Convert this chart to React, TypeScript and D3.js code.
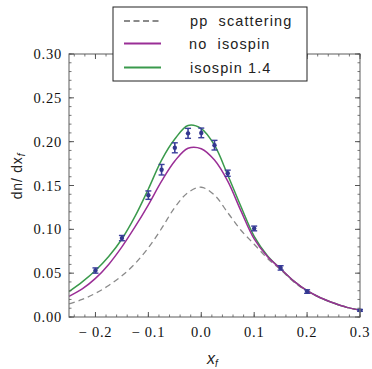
import React from "react";
import * as d3 from "d3";

const curveX = [-0.25, -0.225, -0.2, -0.175, -0.15, -0.125, -0.1, -0.075, -0.05, -0.025, 0, 0.025, 0.05, 0.075, 0.1, 0.125, 0.15, 0.175, 0.2, 0.225, 0.25, 0.275, 0.3];
const isospinY = [0.029, 0.040, 0.053, 0.069, 0.089, 0.115, 0.146, 0.179, 0.203, 0.2185, 0.215, 0.196, 0.162, 0.126, 0.092, 0.070, 0.055, 0.041, 0.030, 0.022, 0.016, 0.011, 0.008];
const noIsospinY = [0.0235, 0.032, 0.044, 0.060, 0.080, 0.103, 0.128, 0.155, 0.178, 0.1925, 0.192, 0.179, 0.155, 0.121, 0.089, 0.069, 0.055, 0.041, 0.030, 0.022, 0.016, 0.011, 0.008];
const ppY = [0.015, 0.020, 0.027, 0.036, 0.047, 0.061, 0.079, 0.101, 0.125, 0.142, 0.148, 0.139, 0.119, 0.099, 0.083, 0.067, 0.054, 0.040, 0.0295, 0.022, 0.0157, 0.011, 0.008];

const dataX = [-0.2, -0.15, -0.1, -0.075, -0.05, -0.025, 0, 0.025, 0.05, 0.1, 0.15, 0.2, 0.3];
const dataY = [0.053, 0.090, 0.139, 0.168, 0.193, 0.2095, 0.210, 0.196, 0.164, 0.101, 0.056, 0.029, 0.0076];
const dataErr = [0.003, 0.003, 0.0048, 0.006, 0.0057, 0.0057, 0.0055, 0.0055, 0.0035, 0.0027, 0.0025, 0.002, 0.001];

const xTickValues = [-0.2, -0.1, 0, 0.1, 0.2, 0.3];
const xTickLabels = ["\u2212 0.2", "\u2212 0.1", "0.0", "0.1", "0.2", "0.3"];
const yTickValues = [0, 0.05, 0.1, 0.15, 0.2, 0.25, 0.3];
const yTickLabels = ["0.00", "0.05", "0.10", "0.15", "0.20", "0.25", "0.30"];

const legendLabels = ["pp  scattering", "no  isospin", "isospin 1.4"];
const legendColors = ["#8a8a8a", "#9a2e96", "#3a9a4c"];
const legendDash = ["6,3.5", null, null];

export default function App() {
  const W = 372, H = 369;
  const x = d3.scaleLinear().domain([-0.25, 0.3]).range([69, 360]);
  const y = d3.scaleLinear().domain([0, 0.3]).range([317, 54]);
  const line = (ys: number[]) =>
    d3.line<number>().x((_, i) => x(curveX[i])).y((v) => y(v)).curve(d3.curveCatmullRom.alpha(0.5))(ys) || "";

  const xMinor = d3.range(-0.24, 0.301, 0.02).map((v) => Math.round(v * 100) / 100);
  const yMinor = d3.range(0, 0.301, 0.01).map((v) => Math.round(v * 100) / 100);
  const [x0, x1] = x.range();
  const [y0, y1] = y.range();
  const frameColor = "#777";
  const tickColor = "#555";
  const serif = "'Liberation Serif', 'DejaVu Serif', serif";
  const sans = "'Liberation Sans', Arial, sans-serif";

  return (
    <svg width={W} height={H} style={{ position: "absolute", left: 0, top: 0, background: "#fff" }}>
      <rect x={0} y={0} width={W} height={H} fill="#fff" />
      {/* curves */}
      <path d={line(ppY)} fill="none" stroke={legendColors[0]} strokeWidth={1.3} strokeDasharray="6,4" />
      <path d={line(isospinY)} fill="none" stroke={legendColors[2]} strokeWidth={1.5} />
      <path d={line(noIsospinY)} fill="none" stroke={legendColors[1]} strokeWidth={1.5} />
      {/* data points */}
      {dataX.map((dx, i) => {
        const cx = x(dx);
        const top = y(dataY[i] + dataErr[i]);
        const bot = y(dataY[i] - dataErr[i]);
        return (
          <g key={i}>
            <line x1={cx} x2={cx} y1={top} y2={bot} stroke="#3b3f9c" strokeWidth={1.6} />
            <line x1={cx - 3} x2={cx + 3} y1={top} y2={top} stroke="#3b3f9c" strokeWidth={1.4} />
            <line x1={cx - 3} x2={cx + 3} y1={bot} y2={bot} stroke="#3b3f9c" strokeWidth={1.4} />
            <circle cx={cx} cy={y(dataY[i])} r={2.2} fill="#33378f" />
          </g>
        );
      })}
      {/* frame */}
      <rect x={x0} y={y1} width={x1 - x0} height={y0 - y1} fill="none" stroke={frameColor} strokeWidth={1.2} />
      {/* x ticks */}
      {xMinor.map((v, i) => (
        <g key={"xm" + i}>
          <line x1={x(v)} x2={x(v)} y1={y0} y2={y0 - 2.5} stroke={tickColor} strokeWidth={0.8} />
          <line x1={x(v)} x2={x(v)} y1={y1} y2={y1 + 2.5} stroke={tickColor} strokeWidth={0.8} />
        </g>
      ))}
      {xTickValues.map((v, i) => (
        <g key={"x" + i}>
          <line x1={x(v)} x2={x(v)} y1={y0} y2={y0 - 5} stroke={tickColor} strokeWidth={1} />
          <line x1={x(v)} x2={x(v)} y1={y1} y2={y1 + 5} stroke={tickColor} strokeWidth={1} />
          <text x={x(v)} y={337} textAnchor="middle" fontFamily={serif} fontSize={14.5} letterSpacing={0.8} fill="#111" style={{ whiteSpace: "pre" }}>
            {xTickLabels[i]}
          </text>
        </g>
      ))}
      {/* y ticks */}
      {yMinor.map((v, i) => (
        <g key={"ym" + i}>
          <line x1={x0} x2={x0 + 2.5} y1={y(v)} y2={y(v)} stroke={tickColor} strokeWidth={0.8} />
          <line x1={x1} x2={x1 - 2.5} y1={y(v)} y2={y(v)} stroke={tickColor} strokeWidth={0.8} />
        </g>
      ))}
      {yTickValues.map((v, i) => (
        <g key={"y" + i}>
          <line x1={x0} x2={x0 + 5} y1={y(v)} y2={y(v)} stroke={tickColor} strokeWidth={1} />
          <line x1={x1} x2={x1 - 5} y1={y(v)} y2={y(v)} stroke={tickColor} strokeWidth={1} />
          <text x={62} y={y(v) + 5} textAnchor="end" fontFamily={serif} fontSize={14.5} letterSpacing={0.8} fill="#111">
            {yTickLabels[i]}
          </text>
        </g>
      ))}
      {/* axis titles */}
      <text x={207} y={364} fontFamily={sans} fontSize={16} fontStyle="italic" fill="#222">
        x<tspan fontSize={10} dy={3}>f</tspan>
      </text>
      <text transform="translate(22,176) rotate(-90)" textAnchor="middle" fontFamily={sans} fontSize={14} letterSpacing={0.8} fill="#222" style={{ whiteSpace: "pre" }}>
        dn/ dx<tspan fontSize={10} fontStyle="italic" dy={3}>f</tspan>
      </text>
      {/* legend */}
      <rect x={113} y={7} width={194} height={74} fill="#fff" stroke="#222" strokeWidth={1} />
      {legendLabels.map((lab, i) => {
        const ly = [21, 43.5, 67.5][i];
        return (
          <g key={"l" + i}>
            <line x1={124} x2={161} y1={ly} y2={ly} stroke={legendColors[i]} strokeWidth={2} strokeDasharray={legendDash[i] || undefined} />
            <text x={[190, 189, 190][i]} y={ly + 5} fontFamily={sans} fontSize={14.5} letterSpacing={1.1} fill="#222" style={{ whiteSpace: "pre" }}>
              {lab}
            </text>
          </g>
        );
      })}
    </svg>
  );
}
